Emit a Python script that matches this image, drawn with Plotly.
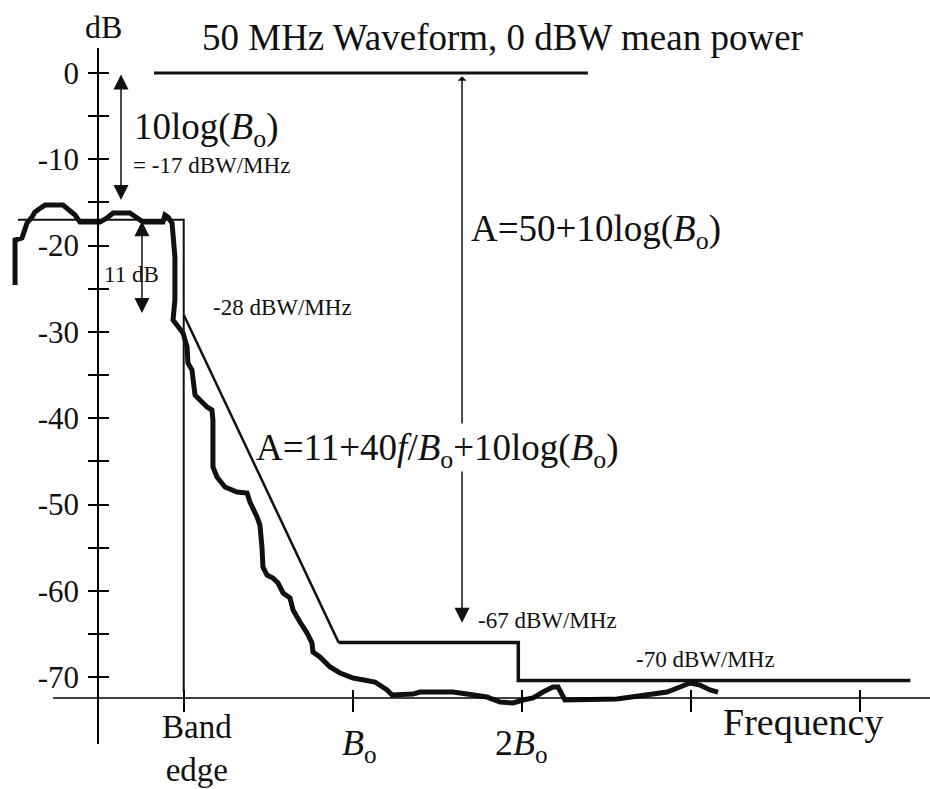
import plotly.graph_objects as go

# ---------------- data (x in units of Bo measured from band edge, y in dB) -------------
SPEC_X = [-0.998, -0.998, -0.957, -0.939, -0.927, -0.898, -0.880, -0.839, -0.821, -0.714,
          -0.673, -0.643, -0.614, -0.495, -0.454, -0.418, -0.318, -0.276, -0.241, -0.123,
          -0.111, -0.093, -0.069, -0.064, -0.052, -0.052, -0.052, -0.063, -0.034, -0.004,
          0.020, 0.025, 0.049, 0.067, 0.096, 0.138, 0.167, 0.173, 0.173, 0.197,
          0.244, 0.315, 0.375, 0.392, 0.434, 0.451, 0.463, 0.469, 0.493, 0.528,
          0.558, 0.588, 0.629, 0.647, 0.688, 0.730, 0.759, 0.765, 0.806, 0.866,
          0.925, 1.002, 1.132, 1.203, 1.233, 1.357, 1.398, 1.593, 1.676, 1.795,
          1.872, 1.949, 2.008, 2.067, 2.126, 2.185, 2.215, 2.239, 2.256, 2.564,
          2.658, 2.759, 2.860, 2.937, 2.996, 3.055, 3.114, 3.162]
SPEC_Y = [-24.57, -19.35, -19.12, -18.19, -17.38, -16.69, -16.11, -15.53, -15.30, -15.30,
          -15.87, -16.45, -17.27, -17.27, -16.80, -16.22, -16.22, -16.80, -17.27, -17.27,
          -16.45, -16.69, -17.38, -18.54, -21.32, -23.99, -26.30, -28.62, -29.43, -30.13,
          -31.75, -33.60, -34.41, -37.31, -37.89, -38.70, -39.05, -40.21, -45.65, -46.81,
          -47.97, -48.55, -48.67, -49.71, -51.45, -52.38, -54.92, -57.24, -58.17, -58.52,
          -59.10, -60.25, -60.83, -62.22, -63.62, -64.89, -66.05, -67.09, -67.67, -68.83,
          -69.52, -70.10, -70.57, -71.49, -72.07, -71.96, -71.73, -71.73, -71.96, -72.31,
          -72.89, -73.00, -72.65, -72.42, -71.73, -71.15, -71.15, -72.07, -72.65, -72.54,
          -72.31, -72.07, -71.73, -71.15, -70.68, -70.92, -71.49, -71.73]

MASK_SLOPE_X = [0.0, 0.917]
MASK_SLOPE_Y = [-28.0, -66.0]
MASK_STEP_X = [0.917, 1.98, 1.98, 4.30]
MASK_STEP_Y = [-66.0, -66.0, -70.4, -70.4]
INBAND_X = [-0.981, 0.0, 0.0]
INBAND_Y = [-17.0, -17.0, -71.7]
REF_X = [-0.176, 2.392]
REF_Y = [0.0, 0.0]

Y_TICKS = [0, -10, -20, -30, -40, -50, -60, -70]
Y_TICK_TEXT = ["0", "-10", "-20", "-30", "-40", "-50", "-60", "-70"]
Y_MINOR_TICKS = [-5, -15, -25, -35, -45, -55, -65]
X_TICKS = [0, 1, 2, 3, 4]
X_LABELS = ["Band<br>edge", "<i>B</i><sub>o</sub>", "2<i>B</i><sub>o</sub>"]

# arrows: x, start (y), end (y), which ends carry a head
ARROW_X = [-0.371, -0.247, 1.647, 1.647]
ARROW_FROM = [0.0, -17.0, -0.2, -46.0]
ARROW_TO = [-14.7, -27.8, -40.6, -63.7]
ARROW_SIDE = ["end+start", "end+start", "start", "end"]

# ---------------- geometry ----------------
X_RANGE = [-1.087, 4.416]
Y_RANGE = [-77.75, 2.90]
X_AXIS_AT = -72.42
X_AXIS_LEFT = -0.773

FONT = "Liberation Serif, Times New Roman, serif"
BLACK = "#111111"

fig = go.Figure()

def line(x, y, w):
    fig.add_trace(go.Scatter(x=x, y=y, mode="lines", line=dict(color=BLACK, width=w),
                             showlegend=False, hoverinfo="skip"))

line(REF_X, REF_Y, 3)
line(INBAND_X, INBAND_Y, 2)
line(MASK_SLOPE_X, MASK_SLOPE_Y, 2.5)
line(MASK_STEP_X, MASK_STEP_Y, 3.5)
line(SPEC_X, SPEC_Y, 5)

# dummy trace on overlay axes (for crossing ticks)
fig.add_trace(go.Scatter(x=[None], y=[None], xaxis="x2", yaxis="y2", showlegend=False,
                         hoverinfo="skip"))

ax_common = dict(showgrid=False, zeroline=False, tickcolor="black", tickwidth=1.5)
xpos = (744 - 698) / 696.0
ypos = 98 / 930.0

fig.update_layout(
    width=930, height=789,
    margin=dict(l=0, r=0, t=48, b=45),
    paper_bgcolor="white", plot_bgcolor="white",
    font=dict(family=FONT, color=BLACK),
    xaxis=dict(range=X_RANGE, tickvals=X_TICKS, ticks="outside", ticklen=13,
               showticklabels=False, showline=False, anchor="free", position=xpos,
               **ax_common),
    xaxis2=dict(range=X_RANGE, matches="x", overlaying="x", tickvals=X_TICKS, ticks="inside",
                ticklen=8, showticklabels=False, showline=False, anchor="free",
                position=xpos, **ax_common),
    yaxis=dict(range=Y_RANGE, tickvals=Y_TICKS, ticktext=Y_TICK_TEXT, ticks="outside",
               ticklen=9, showline=True, linecolor="black", linewidth=1.5,
               anchor="free", position=ypos, tickfont=dict(size=31, family=FONT, color=BLACK),
               ticklabelstandoff=3,
               minor=dict(tickvals=Y_MINOR_TICKS, ticks="outside", ticklen=9,
                          tickwidth=1.5, tickcolor="black", showgrid=False),
               **ax_common),
    yaxis2=dict(range=Y_RANGE, matches="y", overlaying="y", tickvals=Y_TICKS, ticks="inside",
                ticklen=10, showticklabels=False, showline=False, anchor="free",
                position=ypos,
                minor=dict(tickvals=Y_MINOR_TICKS, ticks="inside", ticklen=10,
                           tickwidth=1.5, tickcolor="black", showgrid=False),
                **ax_common),
)

# x axis line
fig.add_shape(type="line", xref="x", yref="y", x0=X_AXIS_LEFT, x1=X_RANGE[1],
              y0=X_AXIS_AT, y1=X_AXIS_AT, line=dict(color="black", width=1.5))

# arrows
for xa, y0, y1, side in zip(ARROW_X, ARROW_FROM, ARROW_TO, ARROW_SIDE):
    fig.add_annotation(x=xa, y=y1, ax=xa, ay=y0, xref="x", yref="y", axref="x", ayref="y",
                       text="", showarrow=True, arrowhead=2, arrowside=side,
                       arrowsize=2.0, arrowwidth=1.5, arrowcolor=BLACK, standoff=0,
                       startstandoff=0)

def txt(x, y, s, size, xanchor="left", yref="y", xshift=0, yanchor="middle"):
    fig.add_annotation(x=x, y=y, xref="x", yref=yref, text=s, showarrow=False,
                       xanchor=xanchor, yanchor=yanchor, xshift=xshift,
                       font=dict(family=FONT, size=size, color=BLACK), borderpad=0)

txt(-0.4775, 1.0295, "dB", 32, xanchor="center", yref="paper")
txt(1.889, 1.0144, "50 MHz Waveform, 0 dBW mean power", 37, xanchor="center", yref="paper")
txt(-0.300, -6.6, "10log(<i>B</i><sub>o</sub>)", 37)
txt(-0.306, -10.7, "= -17 dBW/MHz", 23)
txt(-0.478, -23.4, "11 dB", 23)
txt(0.168, -27.2, "-28 dBW/MHz", 23)
txt(1.694, -18.4, "A=50+10log(<i>B</i><sub>o</sub>)", 37)
txt(0.422, -43.7, "A=11+40<i>f</i>/<i>B</i><sub>o</sub>+10log(<i>B</i><sub>o</sub>)", 37)
txt(1.736, -63.4, "-67 dBW/MHz", 23)
txt(2.670, -67.9, "-70 dBW/MHz", 23)
txt(3.186, -75.2, "Frequency", 38)

X_LABEL_SHIFT = [13, 7, 0]
X_LABEL_Y = [-0.0645, -0.002, -0.002]
X_LABEL_SIZE = [33, 36, 36]
for xv, s, sh, yy, fs in zip(X_TICKS, X_LABELS, X_LABEL_SHIFT, X_LABEL_Y, X_LABEL_SIZE):
    if "<br>" in s:
        txt(xv, yy, s, fs, xanchor="center", yref="paper", xshift=sh, yanchor="bottom")
    else:
        txt(xv, yy, s, fs, xanchor="center", yref="paper", xshift=sh)

fig.write_html("out.html", config={"displayModeBar": False},
               post_script="document.body.style.margin='0px';document.body.style.overflow='hidden';")
